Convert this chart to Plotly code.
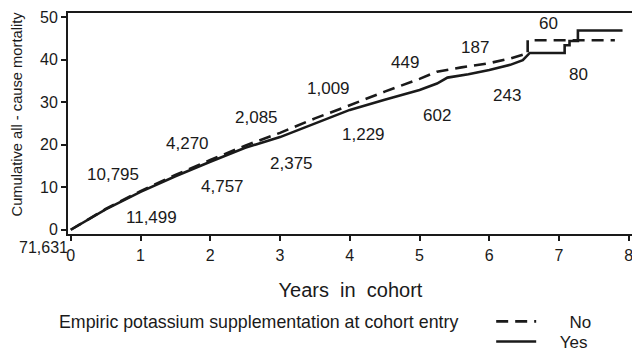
import plotly.graph_objects as go

# Cumulative all-cause mortality (%) by years in cohort
t_yes = [0, 0.5, 1.0, 1.5, 2.0, 2.5, 3.0, 3.5, 4.0, 4.5, 5.0, 5.25, 5.4, 5.7, 6.0, 6.3, 6.48, 6.58, 7.08, 7.08, 7.15, 7.15, 7.27, 7.27, 7.91]
m_yes = [0, 4.8, 8.9, 12.6, 16.0, 19.3, 21.8, 25.0, 28.2, 30.6, 32.9, 34.4, 35.8, 36.6, 37.6, 38.8, 39.9, 41.6, 41.6, 43.4, 43.4, 44.4, 44.4, 46.9, 46.9]

t_no = [0, 0.5, 1.0, 1.5, 2.0, 2.5, 3.0, 3.5, 4.0, 4.5, 5.0, 5.25, 5.6, 6.0, 6.3, 6.5, 6.55, 6.55, 7.8]
m_no = [0, 4.9, 9.1, 12.9, 16.4, 19.8, 22.8, 26.2, 29.3, 32.5, 35.5, 37.2, 38.2, 39.2, 40.3, 41.3, 41.3, 44.6, 44.6]

# Numbers at risk labels
risk_no_text = ["10,795", "4,270", "2,085", "1,009", "449", "187", "60"]
risk_no_x = [0.60, 1.68, 2.66, 3.69, 4.79, 5.79, 6.85]
risk_no_y = [12.9, 20.4, 26.5, 33.3, 39.4, 43.0, 48.6]
risk_yes_text = ["11,499", "4,757", "2,375", "1,229", "602", "243", "80"]
risk_yes_x = [1.16, 2.18, 3.16, 4.19, 5.25, 6.25, 7.28]
risk_yes_y = [2.8, 10.1, 15.7, 22.5, 27.0, 31.5, 36.6]
risk_total_text = "71,631"

x_ticks = [0, 1, 2, 3, 4, 5, 6, 7, 8]
y_ticks = [0, 10, 20, 30, 40, 50]

FONT = "Liberation Sans, Arial, sans-serif"
INK = "#1a1a1a"

fig = go.Figure()
fig.add_trace(go.Scatter(x=t_no, y=m_no, mode="lines", name="      No", legend="legend",
                         line=dict(color=INK, width=2.6, dash="12px,7px")))
fig.add_trace(go.Scatter(x=t_yes, y=m_yes, mode="lines", name="    Yes", legend="legend2",
                         line=dict(color=INK, width=2.6)))

ann = []
for tx, xx, yy in zip(risk_no_text, risk_no_x, risk_no_y):
    ann.append(dict(x=xx, y=yy, xref="x", yref="y", text=tx, showarrow=False,
                    font=dict(size=17, color=INK, family=FONT)))
for tx, xx, yy in zip(risk_yes_text, risk_yes_x, risk_yes_y):
    ann.append(dict(x=xx, y=yy, xref="x", yref="y", text=tx, showarrow=False,
                    font=dict(size=17, color=INK, family=FONT)))
# total at risk sits just outside the axes, so place it in paper coordinates
ann.append(dict(x=-0.044, y=-0.062, xref="paper", yref="paper", xanchor="center",
                yanchor="middle", text=risk_total_text, showarrow=False,
                font=dict(size=16, color=INK, family=FONT)))
ann.append(dict(x=-0.0903, y=0.5 + 10 / 221, xref="paper", yref="paper", xanchor="center",
                yanchor="middle",
                text="Cumulative all - cause mortality", textangle=-90, showarrow=False,
                font=dict(size=14.7, color=INK, family=FONT)))
ann.append(dict(x=0.337, y=-0.398, xref="paper", yref="paper", xanchor="center", yanchor="middle",
                text="Empiric potassium supplementation at cohort entry", showarrow=False,
                font=dict(size=17.8, color=INK, family=FONT)))

legend_common = dict(xanchor="left", yanchor="top",
                     font=dict(size=17, color=INK, family=FONT),
                     bgcolor="rgba(0,0,0,0)", itemwidth=40)

# page body has an 8px margin, so the figure is sized/placed to compensate
fig.update_layout(
    width=632, height=349,
    margin=dict(l=60, r=7, t=5, b=123, autoexpand=False),
    paper_bgcolor="white", plot_bgcolor="white",
    font=dict(family=FONT, color=INK, size=16),
    showlegend=True,
    legend=dict(x=0.749, y=-0.316, **legend_common),
    legend2=dict(x=0.749, y=-0.407, **legend_common),
    annotations=ann,
)
fig.update_xaxes(range=[-0.04, 8.06], tickvals=x_ticks, ticks="outside", ticklen=5,
                 tickwidth=2, tickcolor=INK, showline=True, linewidth=2, linecolor=INK,
                 mirror=True, showgrid=False, zeroline=False, automargin=False,
                 ticklabelstandoff=1,
                 tickfont=dict(size=16, color=INK, family=FONT),
                 title=dict(text="Years  in  cohort", standoff=20,
                            font=dict(size=20, color=INK, family=FONT)))
fig.update_yaxes(range=[-1, 51], tickvals=y_ticks, ticks="outside", ticklen=5,
                 tickwidth=2, tickcolor=INK, showline=True, linewidth=2, linecolor=INK,
                 mirror=True, showgrid=False, zeroline=False, automargin=False,
                 ticklabelstandoff=0,
                 tickfont=dict(size=16, color=INK, family=FONT))

fig.write_html("out.html")
